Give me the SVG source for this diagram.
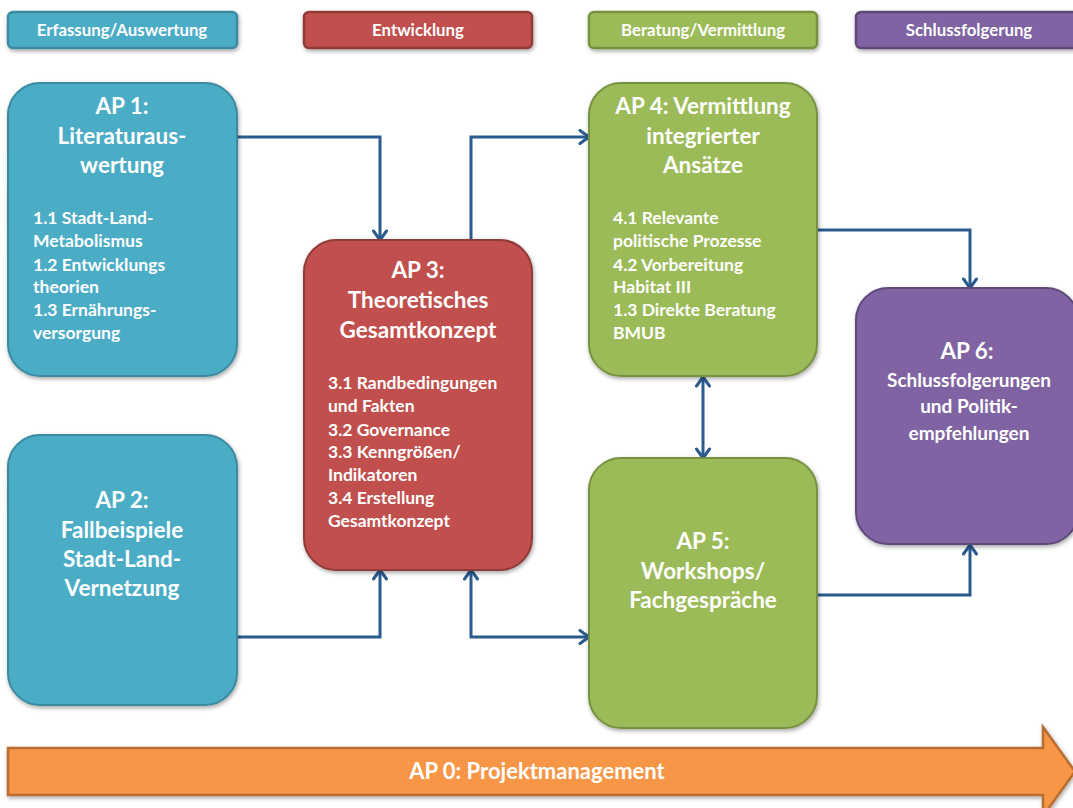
<svg xmlns="http://www.w3.org/2000/svg" width="1073" height="808" viewBox="0 0 1073 808">
<defs>
<style>
.hdr{stroke-width:2.5}
.node{stroke-width:2}
.blue{fill:#4BACC6;stroke:#3a8aa0}
.red{fill:#C0504D;stroke:#8f3a38}
.green{fill:#9BBB59;stroke:#76923f}
.purple{fill:#8064A2;stroke:#5e4979}
.t{font-family:Lato,"Open Sans","Liberation Sans",sans-serif;font-weight:bold;fill:#ffffff}
.h{font-size:16.8px;text-anchor:middle}
.ti{font-size:22.5px;text-anchor:middle}
.it{font-size:17.5px}
.conn{fill:none;stroke:#2b5a8e;stroke-width:3}
</style>
<filter id="sh" x="-10%" y="-10%" width="130%" height="130%">
<feGaussianBlur in="SourceAlpha" stdDeviation="2"/>
<feOffset dx="1" dy="2" result="b"/>
<feComponentTransfer><feFuncA type="linear" slope="0.35"/></feComponentTransfer>
<feMerge><feMergeNode/><feMergeNode in="SourceGraphic"/></feMerge>
</filter>
<marker id="ar" markerUnits="userSpaceOnUse" markerWidth="16" markerHeight="16" viewBox="0 0 16 16" refX="13" refY="8" orient="auto-start-reverse">
<path d="M4,1.5 L13,8 L4,14.5" fill="none" stroke="#2b5a8e" stroke-width="3" stroke-linecap="round" stroke-linejoin="round"/>
</marker>
</defs>
<rect width="1073" height="808" fill="#ffffff"/>

<g id="header-erfassung">
<rect class="hdr blue" x="8" y="12" width="229" height="36" rx="5" filter="url(#sh)"/>
<text class="t h" x="122" y="36">Erfassung/Auswertung</text>
</g>
<g id="header-entwicklung">
<rect class="hdr red" x="304" y="12" width="228" height="36" rx="5" filter="url(#sh)"/>
<text class="t h" x="418" y="36">Entwicklung</text>
</g>
<g id="header-beratung">
<rect class="hdr green" x="589" y="12" width="228" height="36" rx="5" filter="url(#sh)"/>
<text class="t h" x="703" y="36">Beratung/Vermittlung</text>
</g>
<g id="header-schluss">
<rect class="hdr purple" x="856" y="12" width="222" height="36" rx="5" filter="url(#sh)"/>
<text class="t h" x="969" y="36">Schlussfolgerung</text>
</g>

<g id="connectors">
<path class="conn" d="M237,137 H380 V240" marker-end="url(#ar)"/>
<path class="conn" d="M471,240 V137 H589" marker-end="url(#ar)"/>
<path class="conn" d="M237,637 H380 V570" marker-end="url(#ar)"/>
<path class="conn" d="M471,570 V637 H589" marker-start="url(#ar)" marker-end="url(#ar)"/>
<path class="conn" d="M703,377 V458" marker-start="url(#ar)" marker-end="url(#ar)"/>
<path class="conn" d="M817,230 H970 V288" marker-end="url(#ar)"/>
<path class="conn" d="M817,595 H970 V545" marker-end="url(#ar)"/>
</g>

<g id="ap1">
<rect class="node blue" x="8" y="83" width="229" height="293" rx="32" filter="url(#sh)"/>
<text class="t ti" x="122" y="114">AP 1:</text>
<text class="t ti" x="122" y="144">Literaturaus-</text>
<text class="t ti" x="122" y="173">wertung</text>
<text class="t it" x="33" y="224">1.1 Stadt-Land-</text>
<text class="t it" x="33" y="247">Metabolismus</text>
<text class="t it" x="33" y="271">1.2 Entwicklungs</text>
<text class="t it" x="33" y="293">theorien</text>
<text class="t it" x="33" y="316">1.3 Ernährungs-</text>
<text class="t it" x="33" y="339">versorgung</text>
</g>

<g id="ap2">
<rect class="node blue" x="8" y="435" width="229" height="270" rx="32" filter="url(#sh)"/>
<text class="t ti" x="122" y="508">AP 2:</text>
<text class="t ti" x="122" y="538">Fallbeispiele</text>
<text class="t ti" x="122" y="567">Stadt-Land-</text>
<text class="t ti" x="122" y="596">Vernetzung</text>
</g>

<g id="ap3">
<rect class="node red" x="304" y="240" width="228" height="330" rx="32" filter="url(#sh)"/>
<text class="t ti" x="418" y="278">AP 3:</text>
<text class="t ti" x="418" y="308">Theoretisches</text>
<text class="t ti" x="418" y="338">Gesamtkonzept</text>
<text class="t it" x="328" y="389">3.1 Randbedingungen</text>
<text class="t it" x="328" y="412">und Fakten</text>
<text class="t it" x="328" y="436">3.2 Governance</text>
<text class="t it" x="328" y="458">3.3 Kenngrößen/</text>
<text class="t it" x="328" y="481">Indikatoren</text>
<text class="t it" x="328" y="504">3.4 Erstellung</text>
<text class="t it" x="328" y="527">Gesamtkonzept</text>
</g>

<g id="ap4">
<rect class="node green" x="589" y="83" width="228" height="293" rx="32" filter="url(#sh)"/>
<text class="t ti" x="703" y="114">AP 4: Vermittlung</text>
<text class="t ti" x="703" y="144">integrierter</text>
<text class="t ti" x="703" y="173">Ansätze</text>
<text class="t it" x="613" y="224">4.1 Relevante</text>
<text class="t it" x="613" y="247">politische Prozesse</text>
<text class="t it" x="613" y="271">4.2 Vorbereitung</text>
<text class="t it" x="613" y="293">Habitat III</text>
<text class="t it" x="613" y="316">1.3 Direkte Beratung</text>
<text class="t it" x="613" y="339">BMUB</text>
</g>

<g id="ap5">
<rect class="node green" x="589" y="458" width="228" height="270" rx="32" filter="url(#sh)"/>
<text class="t ti" x="703" y="549">AP 5:</text>
<text class="t ti" x="703" y="579">Workshops/</text>
<text class="t ti" x="703" y="608">Fachgespräche</text>
</g>

<g id="ap6">
<rect class="node purple" x="856" y="288" width="222" height="256" rx="32" filter="url(#sh)"/>
<text class="t ti" x="967" y="359">AP 6:</text>
<text class="t" x="969" y="387" font-size="19" text-anchor="middle">Schlussfolgerungen</text>
<text class="t" x="969" y="413" font-size="19" text-anchor="middle">und Politik-</text>
<text class="t" x="969" y="440" font-size="19" text-anchor="middle">empfehlungen</text>
</g>

<g id="ap0">
<path d="M8,748 H1043 V727 L1075,771.5 L1043,816 V795 H8 Z" fill="#F79646" stroke="#b86e30" stroke-width="2.5" filter="url(#sh)"/>
<text class="t" x="537" y="779" font-size="22" text-anchor="middle">AP 0: Projektmanagement</text>
</g>
</svg>
